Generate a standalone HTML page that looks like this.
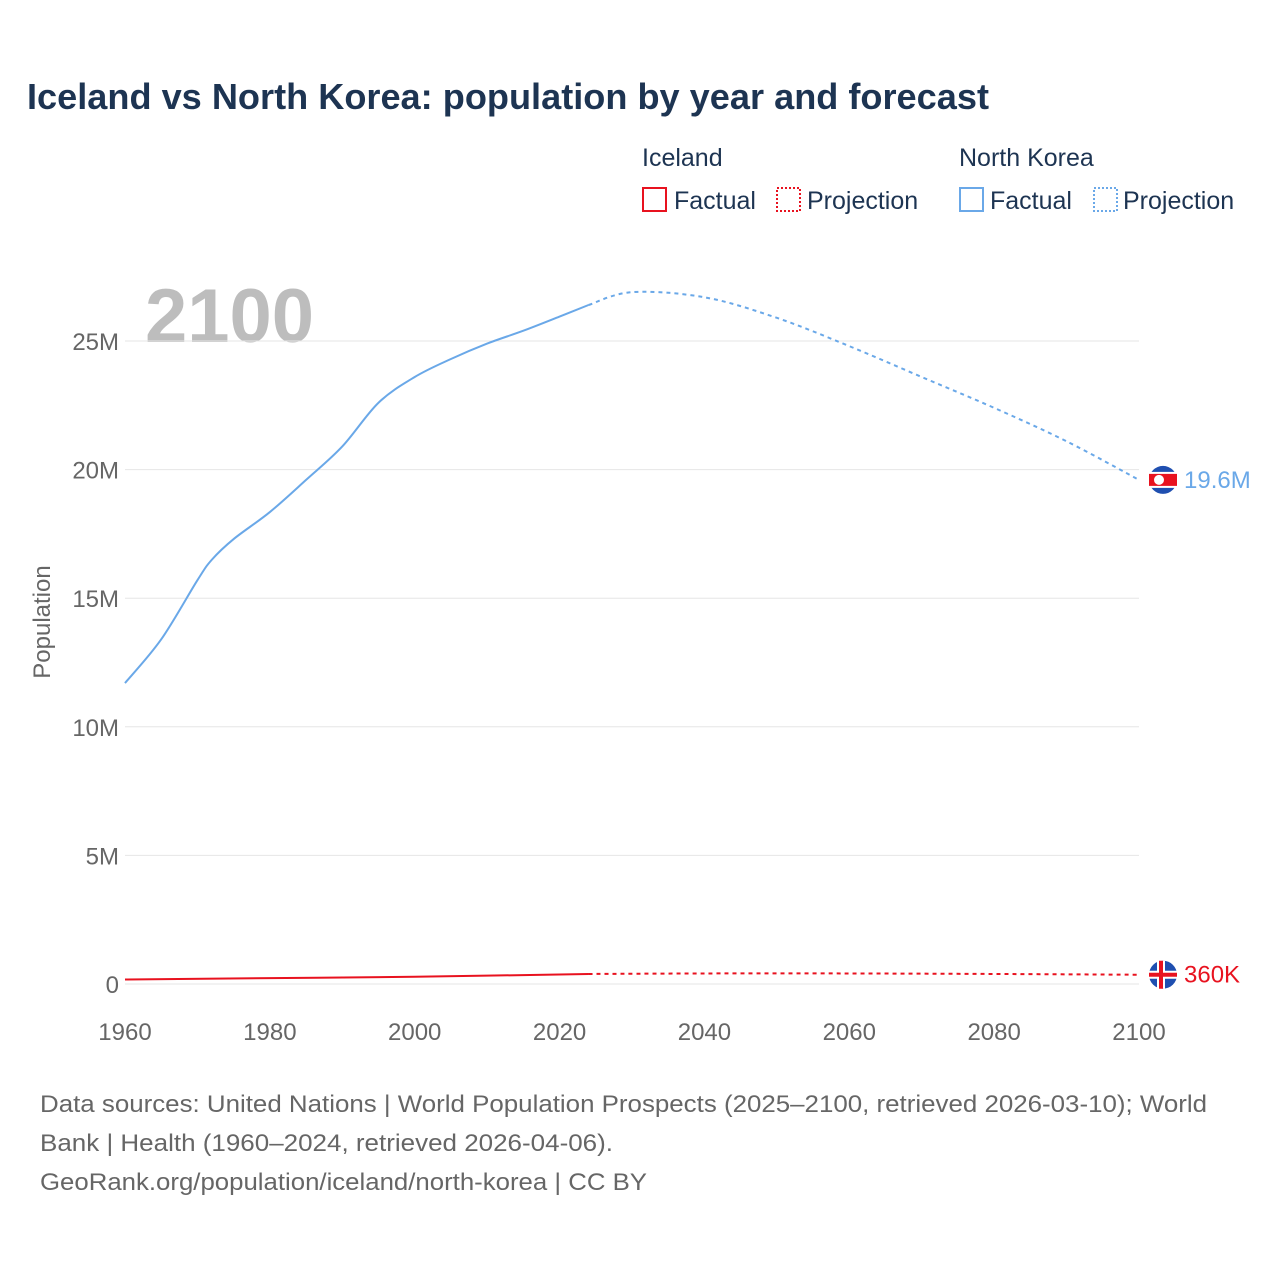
<!DOCTYPE html>
<html><head><meta charset="utf-8"><style>
body{margin:0;width:1280px;height:1280px;background:#fff;font-family:"Liberation Sans",sans-serif;overflow:hidden}
</style></head><body>
<svg width="1280" height="1280" id="c">
<text x="27" y="109" font-size="36" font-weight="bold" fill="#1d3452" textLength="962" lengthAdjust="spacingAndGlyphs">Iceland vs North Korea: population by year and forecast</text>
<g font-size="25" fill="#1d3452">
<text x="642" y="166">Iceland</text>
<rect x="643" y="188" width="23" height="23" fill="none" stroke="#e8121f" stroke-width="2"/>
<text x="674" y="209">Factual</text>
<rect x="777" y="188" width="23" height="23" fill="none" stroke="#e8121f" stroke-width="2" stroke-dasharray="2,2"/>
<text x="807" y="209">Projection</text>
<text x="959" y="166">North Korea</text>
<rect x="960" y="188" width="23" height="23" fill="none" stroke="#6aa8e8" stroke-width="2"/>
<text x="990" y="209">Factual</text>
<rect x="1094" y="188" width="23" height="23" fill="none" stroke="#6aa8e8" stroke-width="2" stroke-dasharray="2,2"/>
<text x="1123" y="209">Projection</text>
</g>
<text x="145" y="342" font-size="76" font-weight="bold" fill="#bdbdbd">2100</text>
<g id="grid"></g><g id="series"></g>
<text transform="translate(50,622) rotate(-90)" text-anchor="middle" font-size="24" fill="#666">Population</text>
<g font-size="24" fill="#666">
<text x="40" y="1112" textLength="1167" lengthAdjust="spacingAndGlyphs">Data sources: United Nations | World Population Prospects (2025–2100, retrieved 2026-03-10); World</text>
<text x="40" y="1151" textLength="573" lengthAdjust="spacingAndGlyphs">Bank | Health (1960–2024, retrieved 2026-04-06).</text>
<text x="40" y="1190" textLength="607" lengthAdjust="spacingAndGlyphs">GeoRank.org/population/iceland/north-korea | CC BY</text>
</g>
</svg>
<script>
const yTicks=[0,5,10,15,20,25];
const yTickLabels=["0","5M","10M","15M","20M","25M"];
const xTicks=[1960,1980,2000,2020,2040,2060,2080,2100];
const nkYears=[1960,1965,1970,1972,1975,1980,1985,1990,1995,2000,2005,2010,2015,2020,2024];
const nkValues=[11.7,13.4,15.7,16.5,17.3,18.35,19.6,20.9,22.6,23.6,24.3,24.9,25.4,25.95,26.4];
const nkProjYears=[2024,2030,2040,2050,2060,2070,2080,2090,2100];
const nkProjValues=[26.4,26.9,26.7,25.9,24.8,23.6,22.4,21.1,19.6];
const isYears=[1960,1980,2000,2024];
const isValues=[0.176,0.228,0.281,0.39];
const isProjYears=[2024,2040,2060,2080,2100];
const isProjValues=[0.39,0.41,0.41,0.39,0.36];
const X=y=>125+(y-1960)*(1014/140);
const Y=v=>984-v*(643/25);
const NS="http://www.w3.org/2000/svg";
const mk=(t,a,p)=>{const e=document.createElementNS(NS,t);for(const k in a)e.setAttribute(k,a[k]);p.appendChild(e);return e;};
const g=document.getElementById('grid'),s=document.getElementById('series');
yTicks.forEach((v,i)=>{
 const l=mk('line',{x1:125,x2:1139,y1:Y(v),y2:Y(v),stroke:'#e6e6e6','stroke-width':1},g);
 
 
 const t=mk('text',{x:119,y:Y(v)+9,'text-anchor':'end','font-size':24,fill:'#666'},g);t.textContent=yTickLabels[i];
 
 
});
xTicks.forEach(y=>{
 const t=mk('text',{x:X(y),y:1040,'text-anchor':'middle','font-size':24,fill:'#666'},g);t.textContent=y;
 
 
});
function smooth(pts){
 let d='M'+pts[0][0]+','+pts[0][1];
 for(let i=0;i<pts.length-1;i++){
  const p0=pts[Math.max(i-1,0)],p1=pts[i],p2=pts[i+1],p3=pts[Math.min(i+2,pts.length-1)];
  const c1=[p1[0]+(p2[0]-p0[0])/6,p1[1]+(p2[1]-p0[1])/6];
  const c2=[p2[0]-(p3[0]-p1[0])/6,p2[1]-(p3[1]-p1[1])/6];
  d+=' C'+c1+' '+c2+' '+p2;
 }
 return d;
}
function line(ys,vs,col,dash,name){
 const p=mk('path',{d:smooth(ys.map((y,i)=>[X(y),Y(vs[i])])),fill:'none',stroke:col,'stroke-width':2,'stroke-dasharray':dash,'stroke-linejoin':'round'},s);
 
 
}
line(nkYears,nkValues,'#6aa8e8','none','nk-factual-line');
line(nkProjYears,nkProjValues,'#6aa8e8','4,4','nk-projection-line');
line(isYears,isValues,'#e8121f','none','iceland-factual-line');
line(isProjYears,isProjValues,'#e8121f','4,4','iceland-projection-line');
const nx=X(2100)+24,ny=Y(nkProjValues[nkProjValues.length-1]);
const f1=mk('g',{},s);


mk('circle',{cx:nx,cy:ny,r:14,fill:'#1f4fb0'},f1);
mk('rect',{x:nx-14,y:ny-8,width:28,height:16,fill:'#fff'},f1);
mk('rect',{x:nx-14,y:ny-6,width:28,height:12,fill:'#e8121f'},f1);
mk('circle',{cx:nx-4,cy:ny,r:5,fill:'#fff'},f1);
const t1=mk('text',{x:nx+21,y:ny+8,'font-size':24,fill:'#6aa8e8'},s);t1.textContent='19.6M';


const ix=X(2100)+24,iy=Y(isProjValues[isProjValues.length-1]);
const f2=mk('g',{},s);


mk('circle',{cx:ix,cy:iy,r:14,fill:'#1f4fb0'},f2);
mk('rect',{x:ix-14,y:iy-4,width:28,height:8,fill:'#fff'},f2);
mk('rect',{x:ix-6,y:iy-14,width:8,height:28,fill:'#fff'},f2);
mk('rect',{x:ix-14,y:iy-2,width:28,height:4,fill:'#e8121f'},f2);
mk('rect',{x:ix-4,y:iy-14,width:4,height:28,fill:'#e8121f'},f2);
const t2=mk('text',{x:ix+21,y:iy+8,'font-size':24,fill:'#e8121f'},s);t2.textContent='360K';


</script>
</body></html>
